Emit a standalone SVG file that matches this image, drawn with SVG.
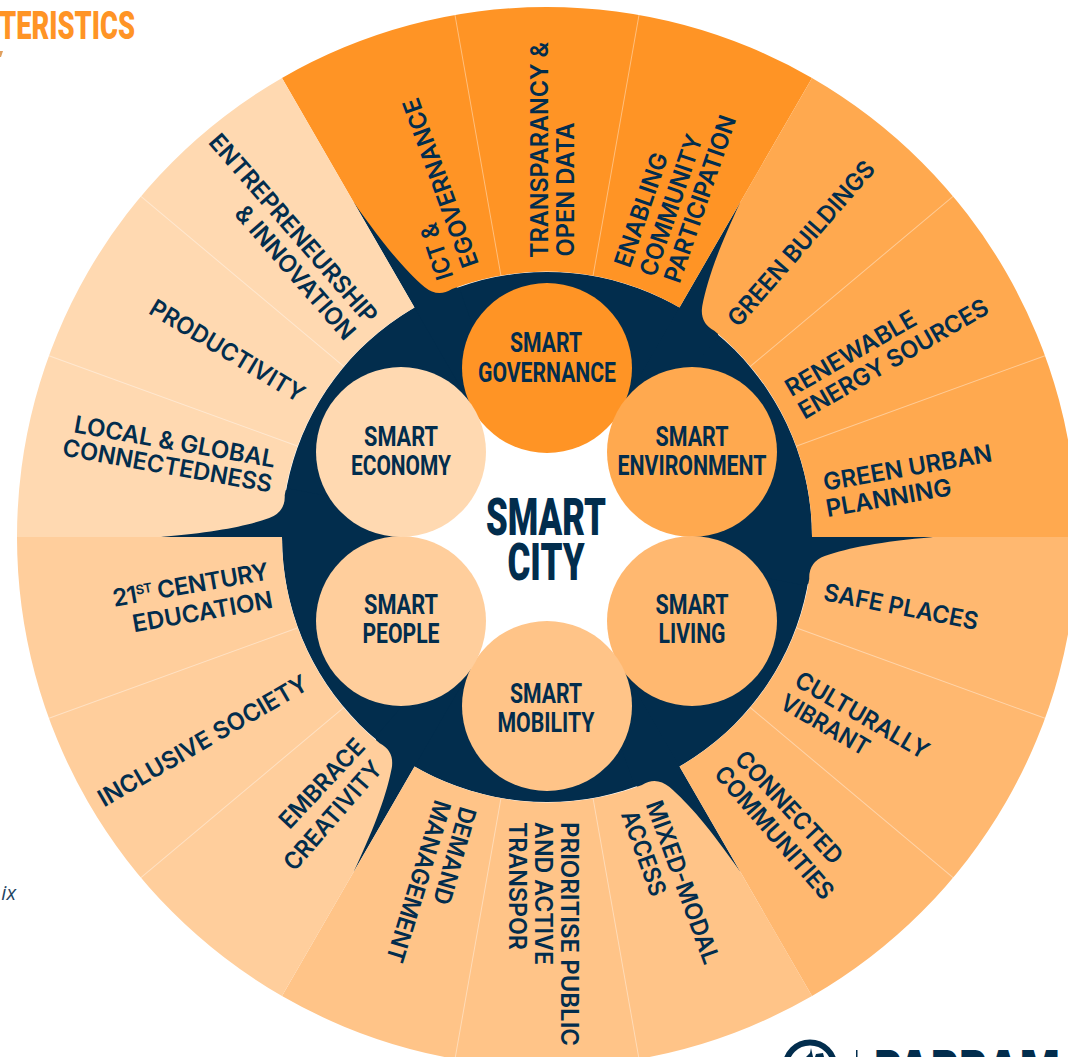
<svg xmlns="http://www.w3.org/2000/svg" width="1068" height="1057" viewBox="0 0 1068 1057">
<style>
.ring{font-family:Inter,"Noto Sans",sans-serif;font-weight:600;font-size:24px;fill:#022d4d;text-anchor:middle}
.hub{font-family:Roboto,"Liberation Sans",sans-serif;font-weight:700;font-size:28px;fill:#022d4d;text-anchor:middle}
.core{font-family:Roboto,"Liberation Sans",sans-serif;font-weight:900;font-size:52px;fill:#022d4d;text-anchor:middle}
.sep{stroke:#fff;stroke-opacity:.4;stroke-width:1}
</style>
<defs>
<path id="wedge" d="M282 78A530 530 0 0 1 812 78L679.5 307.5A265 265 0 0 0 452 289Q438 298 424.5 287C405 270 385 247 353.5 202Z"/>
<path id="spike" d="M547 537L353.5 202L460 290Z" fill="#022d4d"/>
<g id="seps"><line class="sep" x1="501" y1="276" x2="455" y2="15"/><line class="sep" x1="593" y1="276" x2="639" y2="15"/></g>
</defs>
<rect width="1068" height="1057" fill="#fff"/>
<text x="135" y="39" text-anchor="end" font-family="Roboto,'Liberation Sans',sans-serif" font-weight="900" font-size="39" fill="#ff9425" textLength="136" lengthAdjust="spacingAndGlyphs">TERISTICS</text>
<path d="M0 51L3 51L1 57L0 57Z" fill="#e0a060"/>
<text x="16" y="900" text-anchor="end" font-family="'Open Sans','Noto Sans',sans-serif" font-style="italic" font-size="20" fill="#1f4463">ix</text>
<circle cx="547" cy="537" r="265" fill="#022d4d"/>
<g id="spikes">
<use href="#spike"/>
<use href="#spike" transform="rotate(60 547 537)"/>
<use href="#spike" transform="rotate(120 547 537)"/>
<use href="#spike" transform="rotate(180 547 537)"/>
<use href="#spike" transform="rotate(240 547 537)"/>
<use href="#spike" transform="rotate(300 547 537)"/>
</g>
<g id="ring">
<g id="group-governance" fill="#ff9425"><use href="#wedge"/><use href="#seps"/></g>
<g id="group-environment" fill="#ffa94f" transform="rotate(60 547 537)"><use href="#wedge"/><use href="#seps"/></g>
<g id="group-living" fill="#ffb870" transform="rotate(120 547 537)"><use href="#wedge"/><use href="#seps"/></g>
<g id="group-mobility" fill="#ffc488" transform="rotate(180 547 537)"><use href="#wedge"/><use href="#seps"/></g>
<g id="group-people" fill="#ffce9c" transform="rotate(240 547 537)"><use href="#wedge"/><use href="#seps"/></g>
<g id="group-economy" fill="#ffd9b1" transform="rotate(300 547 537)"><use href="#wedge"/><use href="#seps"/></g>
</g>
<circle id="core-disc" cx="547" cy="537" r="146" fill="#fff"/>
<g id="labels">
<g class="ring">
<text transform="translate(444.5 249) rotate(-108)" textLength="58" lengthAdjust="spacingAndGlyphs">ICT &amp;</text>
<text transform="translate(448.5 180) rotate(-110)" textLength="178" lengthAdjust="spacingAndGlyphs">EGOVERNANCE</text>
<text transform="translate(547.5 150) rotate(-90)" textLength="216" lengthAdjust="spacingAndGlyphs">TRANSPARANCY &amp;</text>
<text transform="translate(573.5 189.5) rotate(-90)" textLength="134" lengthAdjust="spacingAndGlyphs">OPEN DATA</text>
<text transform="translate(649 212.5) rotate(-71)" textLength="119" lengthAdjust="spacingAndGlyphs">ENABLING</text>
<text transform="translate(679 208) rotate(-71)" textLength="148" lengthAdjust="spacingAndGlyphs">COMMUNITY</text>
<text transform="translate(708 201.5) rotate(-71)" textLength="175" lengthAdjust="spacingAndGlyphs">PARTICIPATION</text>
<text transform="translate(807.5 249) rotate(-49)" textLength="210" lengthAdjust="spacingAndGlyphs">GREEN BUILDINGS</text>
<text transform="translate(855 360.5) rotate(-30)" textLength="147" lengthAdjust="spacingAndGlyphs">RENEWABLE</text>
<text transform="translate(897.5 366) rotate(-30)" textLength="215" lengthAdjust="spacingAndGlyphs">ENERGY SOURCES</text>
<text transform="translate(909 476) rotate(-10)" textLength="171" lengthAdjust="spacingAndGlyphs">GREEN URBAN</text>
<text transform="translate(890 506) rotate(-10)" textLength="127" lengthAdjust="spacingAndGlyphs">PLANNING</text>
<text transform="translate(899.5 615) rotate(11)" textLength="157" lengthAdjust="spacingAndGlyphs">SAFE PLACES</text>
<text transform="translate(858 722.5) rotate(30)" textLength="150" lengthAdjust="spacingAndGlyphs">CULTURALLY</text>
<text transform="translate(821 732) rotate(30)" textLength="98" lengthAdjust="spacingAndGlyphs">VIBRANT</text>
<text transform="translate(783 813) rotate(47)" textLength="145" lengthAdjust="spacingAndGlyphs">CONNECTED</text>
<text transform="translate(768 838) rotate(49)" textLength="168" lengthAdjust="spacingAndGlyphs">COMMUNITIES</text>
<text transform="translate(675 885) rotate(70)" textLength="172" lengthAdjust="spacingAndGlyphs">MIXED-MODAL</text>
<text transform="translate(636 856) rotate(70)" textLength="89" lengthAdjust="spacingAndGlyphs">ACCESS</text>
<text transform="translate(561 934) rotate(90)" textLength="224" lengthAdjust="spacingAndGlyphs">PRIORITISE PUBLIC</text>
<text transform="translate(535 893.5) rotate(90)" textLength="143" lengthAdjust="spacingAndGlyphs">AND ACTIVE</text>
<text transform="translate(508.5 886) rotate(90)" textLength="128" lengthAdjust="spacingAndGlyphs">TRANSPOR</text>
<text transform="translate(446.5 853.5) rotate(106)" textLength="100" lengthAdjust="spacingAndGlyphs">DEMAND</text>
<text transform="translate(410.5 879) rotate(107)" textLength="168" lengthAdjust="spacingAndGlyphs">MANAGEMENT</text>
<text transform="translate(328 789) rotate(-47)" textLength="113" lengthAdjust="spacingAndGlyphs">EMBRACE</text>
<text transform="translate(339 821) rotate(-49)" textLength="136" lengthAdjust="spacingAndGlyphs">CREATIVITY</text>
<text transform="translate(207 748) rotate(-30)" textLength="238" lengthAdjust="spacingAndGlyphs">INCLUSIVE SOCIETY</text>
<text transform="translate(192 593) rotate(-10)" textLength="158">21<tspan font-size="13" dy="-8">ST</tspan><tspan dy="8"> CENTURY</tspan></text>
<text transform="translate(204 620) rotate(-10)" textLength="142" lengthAdjust="spacingAndGlyphs">EDUCATION</text>
<text transform="translate(173.5 450) rotate(10)" textLength="204" lengthAdjust="spacingAndGlyphs">LOCAL &amp; GLOBAL</text>
<text transform="translate(166 474) rotate(10)" textLength="212" lengthAdjust="spacingAndGlyphs">CONNECTEDNESS</text>
<text transform="translate(223 358) rotate(31)" textLength="176" lengthAdjust="spacingAndGlyphs">PRODUCTIVITY</text>
<text transform="translate(287 234) rotate(49)" textLength="242" lengthAdjust="spacingAndGlyphs">ENTREPRENEURSHIP</text>
<text transform="translate(289 278) rotate(49)" textLength="169" lengthAdjust="spacingAndGlyphs">&amp; INNOVATION</text>
</g>
</g>
<g id="node-governance"><circle cx="547" cy="368" r="85" fill="#ff9425"/><text class="hub" x="546" y="352" textLength="72" lengthAdjust="spacingAndGlyphs">SMART</text><text class="hub" x="547" y="382" textLength="138" lengthAdjust="spacingAndGlyphs">GOVERNANCE</text></g>
<g id="node-environment"><circle cx="692" cy="452" r="85" fill="#ffa94f"/><text class="hub" x="692" y="446" textLength="73" lengthAdjust="spacingAndGlyphs">SMART</text><text class="hub" x="692" y="475" textLength="149" lengthAdjust="spacingAndGlyphs">ENVIRONMENT</text></g>
<g id="node-living"><circle cx="692" cy="621" r="85" fill="#ffb870"/><text class="hub" x="692" y="614" textLength="73" lengthAdjust="spacingAndGlyphs">SMART</text><text class="hub" x="692" y="643" textLength="67" lengthAdjust="spacingAndGlyphs">LIVING</text></g>
<g id="node-mobility"><circle cx="547" cy="706" r="85" fill="#ffc488"/><text class="hub" x="546" y="703" textLength="72" lengthAdjust="spacingAndGlyphs">SMART</text><text class="hub" x="546" y="732" textLength="97" lengthAdjust="spacingAndGlyphs">MOBILITY</text></g>
<g id="node-people"><circle cx="401" cy="621" r="85" fill="#ffce9c"/><text class="hub" x="401" y="614" textLength="74" lengthAdjust="spacingAndGlyphs">SMART</text><text class="hub" x="401" y="643" textLength="77" lengthAdjust="spacingAndGlyphs">PEOPLE</text></g>
<g id="node-economy"><circle cx="401" cy="452" r="85" fill="#ffd9b1"/><text class="hub" x="401" y="446" textLength="74" lengthAdjust="spacingAndGlyphs">SMART</text><text class="hub" x="401" y="475" textLength="100" lengthAdjust="spacingAndGlyphs">ECONOMY</text></g>
<g id="node-core"><text class="core" x="546" y="535" textLength="120" lengthAdjust="spacingAndGlyphs">SMART</text><text class="core" x="546" y="580" textLength="77" lengthAdjust="spacingAndGlyphs">CITY</text></g>
<g id="logo" fill="#022d4d"><circle cx="810" cy="1067" r="24.5" fill="none" stroke="#022d4d" stroke-width="6"/><path d="M806 1057L810 1053L811 1048L813 1057ZM816 1054L823 1053L824 1057L815 1057Z"/><rect x="856" y="1050" width="1.5" height="7"/><text x="874" y="1086" font-family="Inter,sans-serif" font-weight="800" font-size="50" textLength="186" lengthAdjust="spacingAndGlyphs">PARRAM</text></g>
</svg>
